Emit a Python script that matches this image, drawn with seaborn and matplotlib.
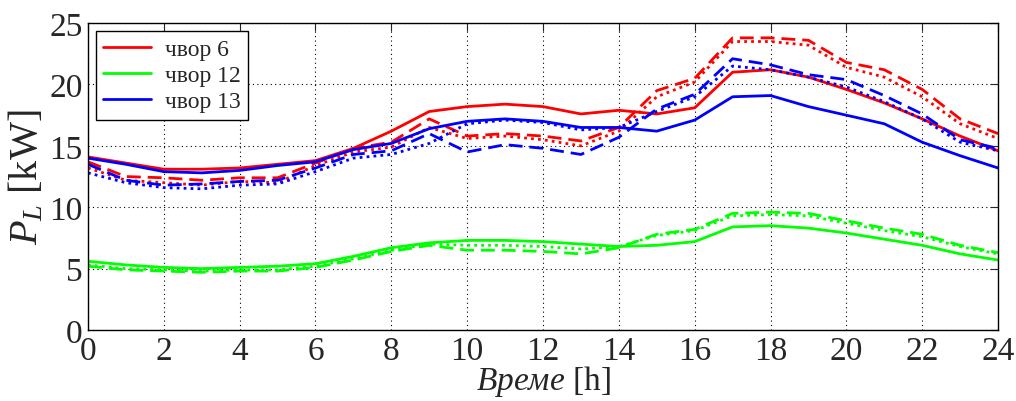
import matplotlib
matplotlib.use("Agg")
import matplotlib.pyplot as plt
import seaborn as sns
import pandas as pd

hours = list(range(25))

# чвор 6
n6_solid = [14.1, 13.6, 13.1, 13.1, 13.2, 13.5, 13.8, 14.8, 16.2, 17.8, 18.2, 18.4, 18.2,
            17.6, 17.9, 17.6, 18.1, 21.0, 21.2, 20.6, 19.6, 18.5, 17.2, 15.8, 14.6]
n6_dash = [13.7, 12.5, 12.4, 12.2, 12.4, 12.4, 13.6, 14.8, 15.3, 17.2, 15.8, 16.0, 15.8,
           15.4, 16.5, 19.5, 20.5, 23.8, 23.8, 23.6, 21.8, 21.2, 19.6, 17.2, 16.0]
n6_dot = [13.2, 12.2, 12.0, 11.8, 12.1, 12.0, 13.4, 14.5, 14.9, 16.5, 15.6, 15.8, 15.5,
          15.0, 16.2, 19.0, 20.2, 23.5, 23.5, 23.2, 21.4, 20.6, 19.0, 16.8, 15.6]

# чвор 12
n12_solid = [5.6, 5.3, 5.1, 5.0, 5.1, 5.2, 5.4, 6.0, 6.7, 7.1, 7.3, 7.3, 7.2,
             7.0, 6.8, 6.9, 7.2, 8.4, 8.5, 8.3, 7.9, 7.4, 6.9, 6.2, 5.7]
n12_dash = [5.2, 4.9, 4.8, 4.7, 4.8, 4.8, 5.1, 5.7, 6.4, 6.9, 6.5, 6.5, 6.4,
            6.2, 6.7, 7.8, 8.2, 9.5, 9.6, 9.5, 8.9, 8.3, 7.8, 6.9, 6.3]
n12_dot = [5.3, 5.0, 4.9, 4.8, 4.9, 4.9, 5.2, 5.8, 6.5, 7.0, 6.9, 6.9, 6.8,
           6.6, 6.8, 7.7, 8.1, 9.3, 9.4, 9.3, 8.7, 8.1, 7.6, 6.8, 6.2]

# чвор 13
n13_solid = [14.0, 13.5, 12.9, 12.8, 13.0, 13.4, 13.7, 14.7, 15.2, 16.4, 17.0, 17.2, 17.0,
             16.5, 16.5, 16.2, 17.1, 19.0, 19.1, 18.2, 17.5, 16.8, 15.3, 14.2, 13.2]
n13_dash = [13.5, 12.2, 11.8, 11.9, 12.1, 12.2, 13.2, 14.3, 14.6, 16.0, 14.5, 15.1, 14.8,
            14.3, 15.7, 18.0, 19.2, 22.1, 21.6, 20.8, 20.4, 19.1, 17.6, 15.5, 14.8]
n13_dot = [12.8, 12.0, 11.6, 11.5, 11.8, 11.9, 12.9, 14.0, 14.3, 15.2, 16.8, 17.1, 16.9,
           16.3, 16.5, 17.8, 19.0, 21.5, 21.2, 20.6, 19.8, 18.6, 17.2, 15.3, 14.6]

nodes = ["чвор 6", "чвор 12", "чвор 13"]
colors = ["#ff0000", "#00ff00", "#0000ff"]
series = [(n6_solid, n6_dash, n6_dot), (n12_solid, n12_dash, n12_dot), (n13_solid, n13_dash, n13_dot)]

sns.set_style("white")
plt.rcParams["font.family"] = ["Liberation Serif", "DejaVu Serif"]
plt.rcParams["mathtext.fontset"] = "custom"
plt.rcParams["mathtext.rm"] = "Liberation Serif"
plt.rcParams["mathtext.it"] = "Liberation Serif:italic"

fig = plt.figure(figsize=(10.16, 4.02), dpi=100)
ax = fig.add_axes([0.0866, 0.1766, 0.8957, 0.7634])

styles = ["-", (0, (5, 2.5)), (0, (1, 1.5))]
for name, col, ser in zip(nodes, colors, series):
    for i, (vals, ls) in enumerate(zip(ser, styles)):
        df = pd.DataFrame({"h": hours, "p": vals})
        sns.lineplot(data=df, x="h", y="p", color=col, linestyle=ls, linewidth=2.0,
                     ax=ax, label=name if i == 0 else None, legend=False)

ax.set_xlim(0, 24)
ax.set_ylim(0, 25)
ax.set_xticks(range(0, 25, 2))
ax.set_yticks(range(0, 26, 5))
ax.tick_params(direction="in", labelsize=24, top=True, right=True, length=6, pad=4)
ax.grid(True, linestyle=(0, (1, 3)), color="black", linewidth=0.8)
for s in ax.spines.values():
    s.set_color("black")
    s.set_linewidth(1.0)

ax.set_xlabel("$\\mathit{Време}$ [h]", fontsize=24, labelpad=-2)
ax.set_ylabel("$P_L$ [kW]", fontsize=29, labelpad=2)

handles, labels = ax.get_legend_handles_labels()
leg = ax.legend(handles, labels, loc="upper left", fontsize=17, frameon=True, fancybox=False,
                edgecolor="black", framealpha=1, handlelength=2.0, borderpad=0.3,
                labelspacing=0.2, handletextpad=0.6, borderaxespad=0.35)
leg.get_frame().set_linewidth(1.0)

fig.savefig("out.png", dpi=100)
